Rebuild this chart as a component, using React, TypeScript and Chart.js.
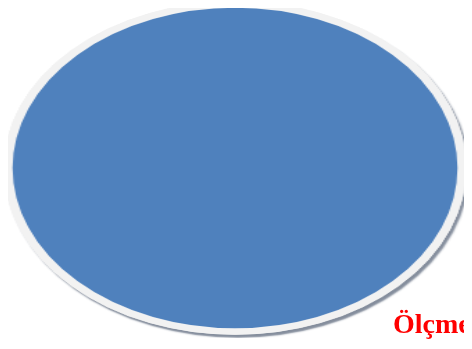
import React, { useEffect, useRef } from "react";
import { Chart, registerables } from "chart.js";

Chart.register(...registerables);

const categories: string[] = ["Ölçme"];
const values: number[] = [100];
const caption = "Ölçme";

const RING_WIDTH = 6.5;

function strokeRing(chart: any, withShadow: boolean) {
  const ctx = chart.ctx;
  const arc = chart.getDatasetMeta(0).data[0] as any;
  if (!arc) return;
  ctx.save();
  if (withShadow) {
    ctx.shadowColor = "rgba(50,65,90,0.6)";
    ctx.shadowOffsetX = 2;
    ctx.shadowOffsetY = 3;
    ctx.shadowBlur = 1.5;
  }
  ctx.beginPath();
  ctx.arc(arc.x, arc.y, arc.outerRadius, 0, Math.PI * 2);
  ctx.lineWidth = RING_WIDTH;
  ctx.strokeStyle = "#F2F2F2";
  ctx.stroke();
  ctx.restore();
}

const ringPlugin = {
  id: "ellipseRing",
  beforeDatasetsDraw(chart: any) {
    strokeRing(chart, true);
  },
  afterDatasetsDraw(chart: any) {
    strokeRing(chart, false);
  },
};

export default function App() {
  const ref = useRef<HTMLCanvasElement | null>(null);

  useEffect(() => {
    const canvas = ref.current;
    if (!canvas) return;
    const chart = new Chart(canvas, {
      type: "pie",
      data: {
        labels: categories,
        datasets: [
          {
            data: values,
            backgroundColor: ["#4F81BD"],
            borderWidth: 0,
            radius: 163.5,
          } as any,
        ],
      },
      options: {
        responsive: false,
        animation: false,
        layout: { padding: 0 },
        plugins: {
          legend: { display: false },
          tooltip: { enabled: false },
          title: { display: false },
        },
      },
      plugins: [ringPlugin],
    });
    return () => chart.destroy();
  }, []);

  return (
    <div
      style={{
        position: "relative",
        margin: -8,
        width: 472,
        height: 349,
        overflow: "hidden",
        background: "#ffffff",
      }}
    >
      <canvas
        ref={ref}
        width={340}
        height={340}
        style={{
          position: "absolute",
          left: -1,
          top: -2,
          width: 472,
          height: 340,
        }}
      />
      <div
        style={{
          position: "absolute",
          left: 393,
          top: 310,
          fontFamily: "'Liberation Serif', 'Times New Roman', serif",
          fontWeight: "bold",
          fontSize: 28,
          lineHeight: "28px",
          color: "#FF0000",
          whiteSpace: "nowrap",
        }}
      >
        {caption}
      </div>
    </div>
  );
}
